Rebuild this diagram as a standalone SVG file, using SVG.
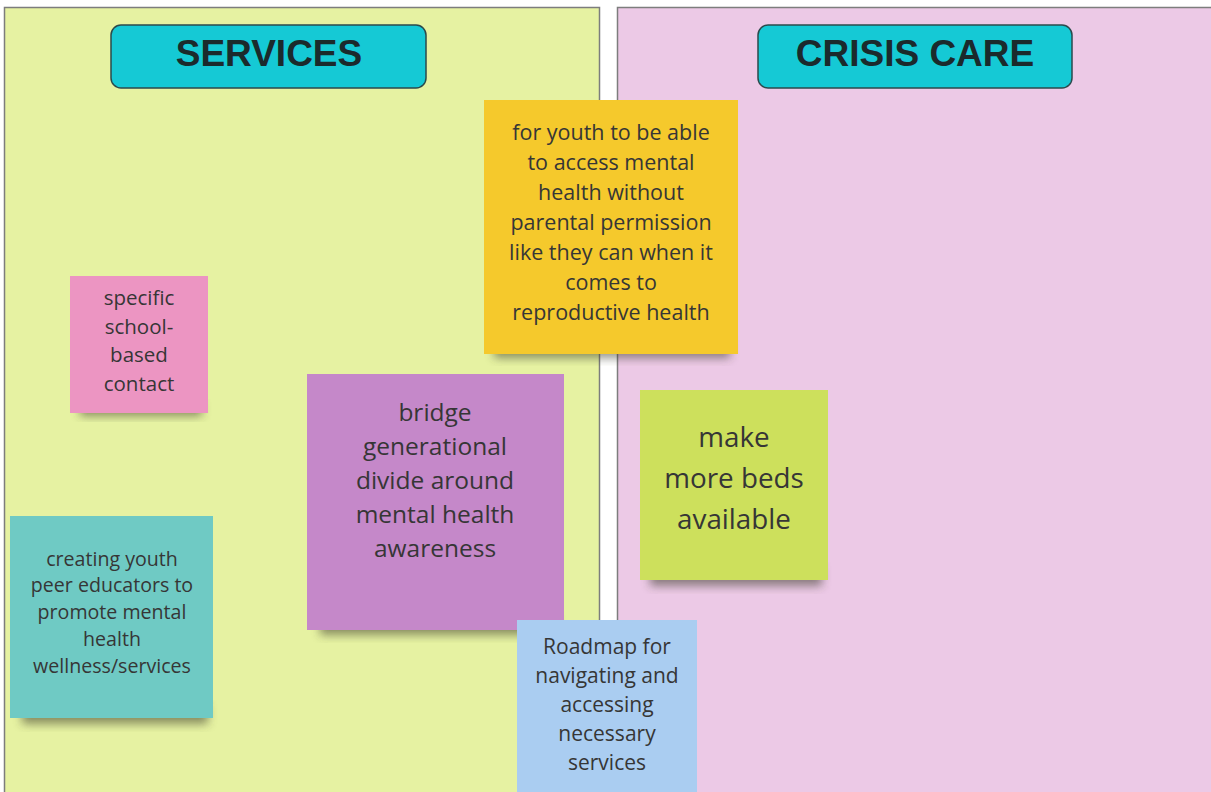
<svg xmlns="http://www.w3.org/2000/svg" width="1211" height="792" viewBox="0 0 1211 792">
<defs>
<filter id="sh" x="-20%" y="-20%" width="140%" height="160%">
<feGaussianBlur stdDeviation="5"/>
</filter>
<style>
.hdr{fill:#15c9d5;stroke:#2b4a4c;stroke-width:1.5}
.htx{font-family:"Liberation Sans",Arial,sans-serif;font-weight:bold;font-size:37px;fill:#1b2a2c;text-anchor:middle}
.st{font-family:"Open Sans","Noto Sans",sans-serif;fill:#363636;text-anchor:middle}
.shd{fill:#3a3a2a;opacity:0.55;filter:url(#sh)}
</style>
</defs>
<rect width="1211" height="792" fill="#ffffff"/>
<g id="panel-services">
<rect x="4.5" y="7.5" width="595" height="790" fill="#e6f2a2" stroke="#7d7d7d" stroke-width="1.5"/>
</g>
<g id="panel-crisis">
<rect x="617.5" y="7.5" width="600" height="790" fill="#ecc9e6" stroke="#7d7d7d" stroke-width="1.5"/>
</g>
<g id="hdr-services">
<rect class="hdr" x="111" y="25" width="315" height="63" rx="10"/>
<text class="htx" x="269" y="66">SERVICES</text>
</g>
<g id="hdr-crisis">
<rect class="hdr" x="758" y="25" width="314" height="63" rx="10"/>
<text class="htx" x="915" y="66">CRISIS CARE</text>
</g>
<g id="connectors"></g>
<g id="note-youth">
<rect class="shd" x="494" y="340" width="236" height="18"/>
<rect x="484" y="100" width="254" height="254" fill="#f5c92c"/>
<text class="st" font-size="21.5"><tspan x="611" y="140">for youth to be able</tspan><tspan x="611" y="170">to access mental</tspan><tspan x="611" y="200">health without</tspan><tspan x="611" y="230">parental permission</tspan><tspan x="611" y="260">like they can when it</tspan><tspan x="611" y="290">comes to</tspan><tspan x="611" y="320">reproductive health</tspan></text>
</g>
<g id="note-school">
<rect class="shd" x="80" y="402" width="122" height="14"/>
<rect x="70" y="276" width="138" height="137" fill="#ec95c2"/>
<text class="st" font-size="20.5"><tspan x="139" y="305">specific</tspan><tspan x="139" y="334">school-</tspan><tspan x="139" y="362">based</tspan><tspan x="139" y="391">contact</tspan></text>
</g>
<g id="note-bridge">
<rect class="shd" x="320" y="615" width="236" height="20"/>
<rect x="307" y="374" width="257" height="256" fill="#c588c9"/>
<text class="st" font-size="24.5"><tspan x="435" y="421">bridge</tspan><tspan x="435" y="455">generational</tspan><tspan x="435" y="489">divide around</tspan><tspan x="435" y="523">mental health</tspan><tspan x="435" y="557">awareness</tspan></text>
</g>
<g id="note-beds">
<rect class="shd" x="650" y="566" width="172" height="20"/>
<rect x="640" y="390" width="188" height="190" fill="#cde05c"/>
<text class="st" font-size="27.8"><tspan x="734" y="447">make</tspan><tspan x="734" y="488">more beds</tspan><tspan x="734" y="529">available</tspan></text>
</g>
<g id="note-peer">
<rect class="shd" x="22" y="704" width="186" height="20"/>
<rect x="10" y="516" width="203" height="202" fill="#6fcac4"/>
<text class="st" font-size="19.6"><tspan x="112" y="566">creating youth</tspan><tspan x="112" y="592">peer educators to</tspan><tspan x="112" y="619">promote mental</tspan><tspan x="112" y="646">health</tspan><tspan x="112" y="673">wellness/services</tspan></text>
</g>
<g id="note-roadmap">
<rect x="517" y="620" width="180" height="180" fill="#aacdf1"/>
<text class="st" font-size="21"><tspan x="607" y="654">Roadmap for</tspan><tspan x="607" y="683">navigating and</tspan><tspan x="607" y="712">accessing</tspan><tspan x="607" y="741">necessary</tspan><tspan x="607" y="770">services</tspan></text>
</g>
</svg>
